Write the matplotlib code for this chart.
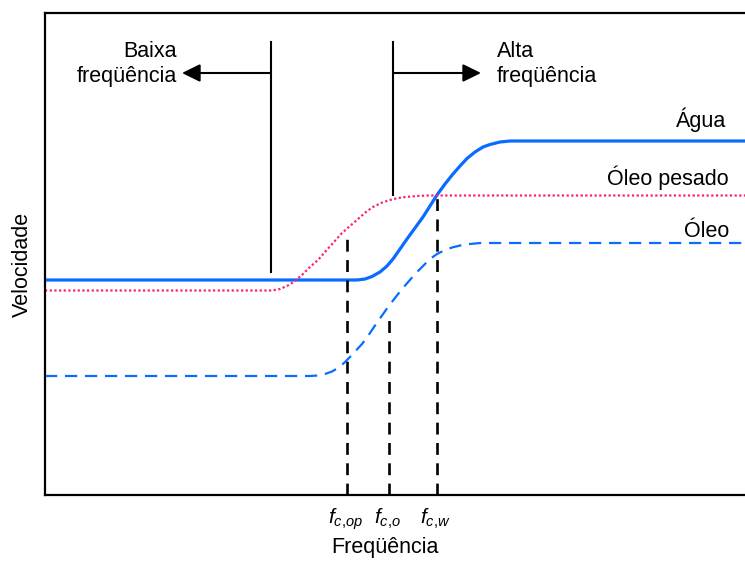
import numpy as np
import matplotlib
matplotlib.use('Agg')
import matplotlib.pyplot as plt

plt.rcParams['font.family'] = ['Liberation Sans', 'DejaVu Sans']
plt.rcParams['mathtext.fontset'] = 'custom'
plt.rcParams['mathtext.rm'] = 'Liberation Sans'
plt.rcParams['mathtext.it'] = 'Liberation Sans:italic'

# curves (arbitrary units: frequency, velocity)
agua_f = [0, 312, 320, 327, 335, 342, 348, 355, 362, 370, 378, 385, 392,
          400, 408, 415, 422, 430, 438, 445, 455, 465, 700]
agua_v = [215, 215, 216, 218.5, 223, 229, 236, 246, 256, 267, 278, 289, 300,
          311, 321, 329, 336.5, 343, 348, 350.5, 353, 354, 354]

pesado_f = [0, 227, 235, 243, 250, 258, 265, 273, 280, 288, 297, 305, 313,
            321, 328, 336, 345, 353, 362, 372, 382, 700]
pesado_v = [204.5, 204.5, 206, 209.5, 214, 221, 228, 235, 243, 252, 262, 269,
            276, 283, 288, 292, 295, 297, 298.2, 299, 299.5, 299.5]

oleo_f = [0, 265, 273, 280, 287, 293, 299, 305, 311, 317, 323, 329, 336, 343,
          350, 357, 364, 371, 378, 385, 392, 399, 407, 415, 425, 435, 700]
oleo_v = [119, 119, 119.5, 121, 123.5, 127, 132, 138, 144.5, 151, 159, 168,
          178, 188, 197, 206, 214, 222, 229, 236, 241, 244.5, 247.5, 249.5,
          251, 252, 252]

# cutoff frequencies and the height of their dashed markers
fc_pos = [302, 344, 392]
fc_top = [263, 182, 302]
fc_labels = ['$f_{c{,}op}$', '$f_{c{,}o}$', '$f_{c{,}w}$']

# boundaries between low and high frequency regions
bound_f = [226, 348]
bound_bottom = [223, 300]

blue = '#0a6cff'
pink = '#ff1f6e'
fs = 15.5

fig = plt.figure(figsize=(7.45, 5.61), dpi=100)
ax = fig.add_axes([45 / 745, 66 / 561, 1.0, 482 / 561])
ax.set_xlim(0, 745)
ax.set_ylim(0, 482)

ax.plot(agua_f, agua_v, color=blue, lw=2.3, solid_capstyle='butt')
ax.plot(pesado_f, pesado_v, color=pink, lw=1.6, linestyle=(0, (1, 1.1)))
ax.plot(oleo_f, oleo_v, color=blue, lw=1.6, linestyle=(0, (5.5, 3.5)))

for f, top in zip(fc_pos, fc_top):
    ax.plot([f, f], [0, top], color='black', lw=1.9, linestyle=(0, (4.5, 3.2)))

for f, b in zip(bound_f, bound_bottom):
    ax.plot([f, f], [b, 453], color='black', lw=1.5)

arrow = dict(arrowstyle='-|>,head_length=0.55,head_width=0.27', color='black',
             lw=1.5, mutation_scale=20, shrinkA=0, shrinkB=0)
ax.annotate('', xy=(137, 422), xytext=(bound_f[0], 422), arrowprops=arrow)
ax.annotate('', xy=(436, 422), xytext=(bound_f[1], 422), arrowprops=arrow)

ax.text(132, 431, 'Baixa\nfreqüência', ha='right', va='center', fontsize=fs,
        multialignment='right', linespacing=1.25)
ax.text(452, 431, 'Alta\nfreqüência', ha='left', va='center', fontsize=fs,
        multialignment='left', linespacing=1.25)

ax.text(681, 368, 'Água', ha='right', va='baseline', fontsize=fs)
ax.text(684, 310, 'Óleo pesado', ha='right', va='baseline', fontsize=fs)
ax.text(684, 258, 'Óleo', ha='right', va='baseline', fontsize=fs)

for f, lab in zip(fc_pos, fc_labels):
    ax.text(f - 2, -24, lab, ha='center', va='center', fontsize=15, clip_on=False)

fig.text(385 / 745, 1 - 548 / 561, 'Freqüência', ha='center', va='center', fontsize=fs)
fig.text(22 / 745, 1 - 264 / 561, 'Velocidade', ha='center', va='center',
         rotation=90, fontsize=fs)

ax.set_xticks([])
ax.set_yticks([])
ax.spines['right'].set_visible(False)
for s in ['left', 'top', 'bottom']:
    ax.spines[s].set_linewidth(1.6)

fig.savefig('out.png', dpi=100)
